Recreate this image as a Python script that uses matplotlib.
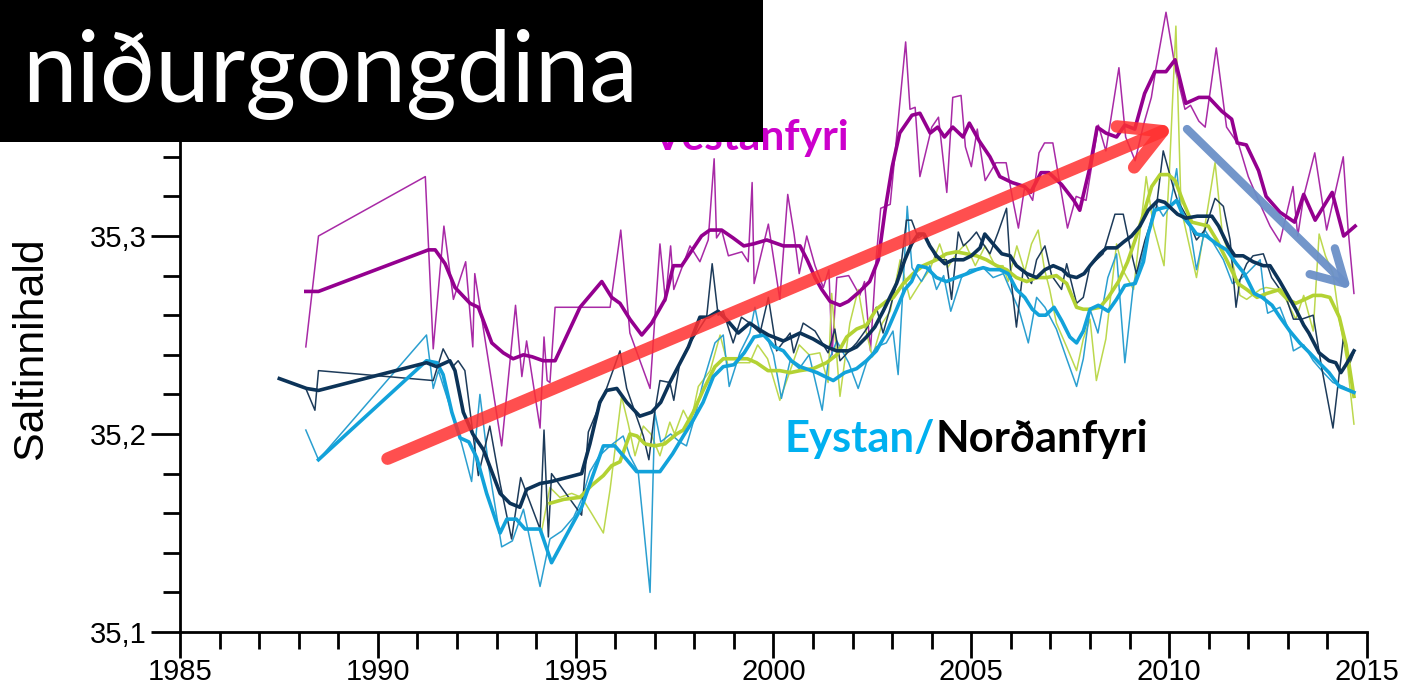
import matplotlib
matplotlib.use('Agg')
import matplotlib.pyplot as plt
import numpy as np
from matplotlib.patches import Rectangle, FancyArrowPatch
from matplotlib.ticker import MultipleLocator, FixedLocator, FuncFormatter

# Vestanfyri (magenta), raw and smoothed
vest_raw_yr = [1988.18, 1988.50, 1991.20, 1991.40, 1991.67, 1991.91, 1992.22, 1992.40, 1992.45, 1993.13,
               1993.48, 1993.64, 1993.76, 1994.10, 1994.20, 1994.28, 1994.35, 1994.48, 1995.87, 1996.14,
               1996.37, 1996.88, 1997.13, 1997.27, 1997.40, 1997.48, 1997.89, 1998.14, 1998.35, 1998.50,
               1998.56, 1998.69, 1998.86, 1999.20, 1999.36, 1999.46, 1999.51, 1999.87, 2000.16, 2000.36,
               2000.52, 2000.65, 2000.84, 2001.05, 2001.26, 2001.40, 2001.48, 2001.60, 2001.90, 2002.18,
               2002.30, 2002.45, 2002.60, 2002.71, 2002.95, 2003.34, 2003.45, 2003.58, 2003.70, 2004.00,
               2004.17, 2004.38, 2004.53, 2004.74, 2004.85, 2005.00, 2005.15, 2005.35, 2005.62, 2005.88,
               2006.05, 2006.19, 2006.35, 2006.55, 2006.71, 2006.85, 2007.06, 2007.43, 2007.65, 2007.90,
               2008.21, 2008.40, 2008.73, 2008.90, 2009.14, 2009.35, 2009.55, 2009.66, 2009.92, 2010.17,
               2010.40, 2010.54, 2010.75, 2010.91, 2011.19, 2011.45, 2011.76, 2012.00, 2012.30, 2012.55,
               2012.80, 2013.13, 2013.25, 2013.40, 2013.68, 2013.98, 2014.15, 2014.40, 2014.52, 2014.67]
vest_raw = [35.244, 35.300, 35.330, 35.243, 35.305, 35.268, 35.287, 35.244, 35.281, 35.194,
            35.265, 35.229, 35.247, 35.203, 35.249, 35.227, 35.226, 35.264, 35.264, 35.303,
            35.251, 35.223, 35.296, 35.267, 35.295, 35.273, 35.295, 35.287, 35.298, 35.339,
            35.299, 35.303, 35.290, 35.292, 35.287, 35.327, 35.276, 35.306, 35.268, 35.321,
            35.301, 35.281, 35.300, 35.285, 35.274, 35.283, 35.240, 35.279, 35.280, 35.270,
            35.277, 35.242, 35.290, 35.314, 35.316, 35.398, 35.364, 35.365, 35.330, 35.355,
            35.360, 35.322, 35.370, 35.371, 35.345, 35.335, 35.354, 35.328, 35.337, 35.337,
            35.318, 35.304, 35.325, 35.318, 35.342, 35.347, 35.347, 35.304, 35.320, 35.318,
            35.356, 35.343, 35.385, 35.350, 35.338, 35.356, 35.370, 35.384, 35.413, 35.383,
            35.364, 35.366, 35.358, 35.355, 35.395, 35.355, 35.346, 35.330, 35.316, 35.305,
            35.297, 35.325, 35.300, 35.320, 35.342, 35.303, 35.318, 35.340, 35.304, 35.271]
vest_sm_yr = [1988.18, 1988.50, 1991.28, 1991.45, 1991.70, 1991.95, 1992.33, 1992.54, 1992.88, 1993.17,
              1993.42, 1993.68, 1993.90, 1994.18, 1994.48, 1995.11, 1995.66, 1995.91, 1996.12, 1996.37,
              1996.67, 1996.92, 1997.26, 1997.47, 1997.68, 1998.18, 1998.39, 1998.69, 1998.98, 1999.25,
              1999.49, 1999.83, 2000.25, 2000.67, 2000.85, 2001.05, 2001.22, 2001.43, 2001.68, 2001.89,
              2002.18, 2002.43, 2002.65, 2002.82, 2003.00, 2003.19, 2003.50, 2003.70, 2003.96, 2004.15,
              2004.32, 2004.53, 2004.79, 2004.95, 2005.20, 2005.47, 2005.72, 2006.03, 2006.34, 2006.50,
              2006.76, 2006.96, 2007.28, 2007.59, 2007.74, 2008.00, 2008.18, 2008.40, 2008.67, 2008.88,
              2009.13, 2009.38, 2009.64, 2009.92, 2010.15, 2010.42, 2010.75, 2011.00, 2011.33, 2011.58,
              2011.72, 2011.95, 2012.26, 2012.45, 2012.80, 2013.17, 2013.40, 2013.69, 2014.12, 2014.41,
              2014.70]
vest_sm = [35.272, 35.272, 35.293, 35.293, 35.286, 35.274, 35.266, 35.264, 35.246, 35.241,
           35.238, 35.240, 35.239, 35.237, 35.237, 35.264, 35.277, 35.269, 35.266, 35.258,
           35.250, 35.256, 35.268, 35.285, 35.285, 35.300, 35.303, 35.303, 35.299, 35.295,
           35.296, 35.298, 35.295, 35.295, 35.288, 35.279, 35.273, 35.267, 35.265, 35.267,
           35.272, 35.277, 35.288, 35.313, 35.335, 35.352, 35.361, 35.362, 35.352, 35.355,
           35.350, 35.355, 35.350, 35.357, 35.348, 35.340, 35.330, 35.327, 35.325, 35.322,
           35.332, 35.332, 35.326, 35.318, 35.313, 35.335, 35.355, 35.352, 35.350, 35.356,
           35.354, 35.372, 35.383, 35.383, 35.389, 35.367, 35.370, 35.370, 35.363, 35.359,
           35.347, 35.346, 35.333, 35.320, 35.312, 35.307, 35.321, 35.308, 35.322, 35.300,
           35.305]

# Norðanfyri (dark navy)
nord_raw_yr = [1988.20, 1988.41, 1988.50, 1991.40, 1991.65, 1991.89, 1992.03, 1992.20, 1992.54, 1992.83,
               1993.09, 1993.38, 1993.61, 1994.10, 1994.20, 1994.31, 1994.39, 1995.15, 1995.32, 1995.78,
               1996.12, 1996.29, 1996.71, 1996.85, 1996.99, 1997.13, 1997.38, 1997.48, 1997.63, 1997.89,
               1998.31, 1998.45, 1998.60, 1998.73, 1998.98, 1999.19, 1999.40, 1999.66, 1999.87, 2000.08,
               2000.42, 2000.51, 2000.75, 2001.05, 2001.38, 2001.55, 2001.68, 2002.10, 2002.35, 2002.60,
               2002.77, 2002.94, 2003.11, 2003.24, 2003.36, 2003.49, 2003.66, 2003.83, 2004.12, 2004.37,
               2004.50, 2004.67, 2004.80, 2004.96, 2005.13, 2005.30, 2005.47, 2005.68, 2005.89, 2006.01,
               2006.14, 2006.31, 2006.52, 2006.65, 2006.86, 2007.03, 2007.28, 2007.41, 2007.66, 2007.83,
               2008.00, 2008.33, 2008.63, 2008.84, 2009.05, 2009.17, 2009.39, 2009.68, 2009.85, 2010.10,
               2010.21, 2010.44, 2010.69, 2010.90, 2011.16, 2011.37, 2011.54, 2011.69, 2011.79, 2011.96,
               2012.12, 2012.38, 2012.59, 2012.80, 2012.97, 2013.14, 2013.35, 2013.64, 2013.85, 2014.14,
               2014.40, 2014.57, 2014.67]
nord_raw = [35.222, 35.212, 35.232, 35.227, 35.243, 35.234, 35.237, 35.232, 35.179, 35.204,
            35.175, 35.147, 35.178, 35.152, 35.202, 35.148, 35.180, 35.159, 35.201, 35.223,
            35.242, 35.223, 35.199, 35.187, 35.210, 35.227, 35.226, 35.217, 35.236, 35.246,
            35.259, 35.286, 35.260, 35.262, 35.246, 35.259, 35.256, 35.251, 35.269, 35.242,
            35.251, 35.241, 35.256, 35.252, 35.241, 35.253, 35.237, 35.246, 35.253, 35.264,
            35.251, 35.263, 35.276, 35.288, 35.308, 35.308, 35.299, 35.301, 35.288, 35.288,
            35.268, 35.302, 35.295, 35.298, 35.302, 35.296, 35.291, 35.302, 35.314, 35.277,
            35.254, 35.283, 35.276, 35.288, 35.295, 35.280, 35.273, 35.286, 35.266, 35.269,
            35.285, 35.291, 35.311, 35.311, 35.291, 35.281, 35.298, 35.315, 35.343, 35.325,
            35.318, 35.310, 35.298, 35.303, 35.319, 35.315, 35.298, 35.264, 35.278, 35.286,
            35.290, 35.291, 35.279, 35.273, 35.268, 35.258, 35.258, 35.260, 35.234, 35.203,
            35.248, 35.236, 35.241]
nord_sm_yr = [1987.51, 1988.20, 1988.50, 1991.23, 1991.49, 1991.82, 1991.95, 1992.16, 1992.40, 1992.67,
              1993.09, 1993.34, 1993.59, 1993.76, 1994.10, 1994.39, 1995.15, 1995.36, 1995.61, 1995.78,
              1996.04, 1996.29, 1996.62, 1996.92, 1997.15, 1997.38, 1997.85, 1998.14, 1998.35, 1998.60,
              1998.85, 1999.11, 1999.40, 1999.62, 1999.87, 2000.25, 2000.67, 2001.00, 2001.34, 2001.60,
              2001.89, 2002.10, 2002.35, 2002.56, 2002.77, 2002.94, 2003.11, 2003.32, 2003.49, 2003.66,
              2003.80, 2003.95, 2004.12, 2004.33, 2004.54, 2004.80, 2005.00, 2005.22, 2005.34, 2005.55,
              2005.77, 2005.98, 2006.14, 2006.40, 2006.65, 2006.86, 2007.07, 2007.30, 2007.45, 2007.66,
              2007.85, 2008.00, 2008.25, 2008.42, 2008.67, 2008.85, 2009.05, 2009.26, 2009.47, 2009.72,
              2009.89, 2010.21, 2010.42, 2010.71, 2011.08, 2011.25, 2011.49, 2011.66, 2011.87, 2012.12,
              2012.38, 2012.55, 2012.80, 2013.00, 2013.20, 2013.40, 2013.53, 2013.79, 2014.04, 2014.21,
              2014.34, 2014.47, 2014.67]
nord_sm = [35.228, 35.223, 35.222, 35.236, 35.234, 35.237, 35.232, 35.211, 35.200, 35.192,
           35.170, 35.165, 35.163, 35.172, 35.175, 35.176, 35.180, 35.195, 35.216, 35.222,
           35.223, 35.216, 35.209, 35.211, 35.216, 35.226, 35.244, 35.259, 35.259, 35.262,
           35.257, 35.251, 35.256, 35.253, 35.250, 35.247, 35.251, 35.248, 35.244, 35.242,
           35.242, 35.244, 35.249, 35.254, 35.262, 35.269, 35.276, 35.288, 35.296, 35.301,
           35.301, 35.295, 35.290, 35.286, 35.288, 35.288, 35.290, 35.294, 35.301, 35.296,
           35.291, 35.290, 35.285, 35.281, 35.279, 35.283, 35.285, 35.283, 35.280, 35.279,
           35.281, 35.285, 35.291, 35.294, 35.294, 35.297, 35.300, 35.305, 35.313, 35.318,
           35.317, 35.311, 35.309, 35.310, 35.310, 35.305, 35.295, 35.290, 35.290, 35.287,
           35.285, 35.285, 35.277, 35.270, 35.263, 35.255, 35.251, 35.241, 35.237, 35.236,
           35.231, 35.235, 35.242]

# Eystanfyri (cyan)
eyst_raw_yr = [1988.18, 1988.50, 1991.23, 1991.40, 1991.53, 1991.87, 1992.12, 1992.37, 1992.58, 1992.79,
               1993.13, 1993.40, 1993.68, 1994.10, 1994.35, 1994.65, 1994.95, 1995.15, 1995.36, 1995.60,
               1995.87, 1996.20, 1996.37, 1996.58, 1996.88, 1997.00, 1997.15, 1997.40, 1997.63, 1997.80,
               1998.00, 1998.22, 1998.52, 1998.73, 1998.88, 1999.15, 1999.40, 1999.53, 1999.66, 1999.87,
               2000.00, 2000.20, 2000.42, 2000.65, 2000.90, 2001.23, 2001.38, 2001.60, 2001.90, 2002.14,
               2002.35, 2002.60, 2002.85, 2003.02, 2003.15, 2003.27, 2003.38, 2003.50, 2003.74, 2003.95,
               2004.12, 2004.30, 2004.48, 2004.75, 2004.96, 2005.30, 2005.55, 2005.81, 2005.98, 2006.20,
               2006.44, 2006.65, 2006.86, 2007.15, 2007.41, 2007.66, 2007.83, 2008.00, 2008.20, 2008.45,
               2008.67, 2008.88, 2009.10, 2009.30, 2009.47, 2009.64, 2009.85, 2010.02, 2010.19, 2010.30,
               2010.52, 2010.69, 2010.90, 2011.10, 2011.37, 2011.60, 2011.79, 2011.96, 2012.30, 2012.40,
               2012.49, 2012.80, 2013.05, 2013.14, 2013.40, 2013.64, 2013.90, 2014.14, 2014.40, 2014.67]
eyst_raw = [35.202, 35.187, 35.250, 35.223, 35.232, 35.211, 35.195, 35.176, 35.220, 35.185,
            35.143, 35.146, 35.162, 35.123, 35.147, 35.151, 35.158, 35.167, 35.181, 35.189,
            35.194, 35.199, 35.189, 35.181, 35.120, 35.211, 35.196, 35.200, 35.196, 35.194,
            35.208, 35.226, 35.246, 35.250, 35.224, 35.241, 35.251, 35.264, 35.251, 35.247,
            35.240, 35.218, 35.237, 35.233, 35.240, 35.212, 35.236, 35.247, 35.236, 35.223,
            35.236, 35.244, 35.246, 35.252, 35.230, 35.273, 35.315, 35.284, 35.277, 35.285,
            35.273, 35.280, 35.262, 35.279, 35.283, 35.284, 35.279, 35.281, 35.273, 35.263,
            35.246, 35.269, 35.264, 35.253, 35.238, 35.224, 35.238, 35.263, 35.251, 35.279,
            35.291, 35.236, 35.276, 35.288, 35.301, 35.317, 35.310, 35.315, 35.334, 35.310,
            35.305, 35.283, 35.303, 35.297, 35.288, 35.276, 35.278, 35.281, 35.288, 35.271,
            35.261, 35.264, 35.251, 35.242, 35.245, 35.237, 35.231, 35.226, 35.224, 35.221]
eyst_sm_yr = [1988.50, 1991.23, 1991.49, 1991.65, 1991.87, 1992.08, 1992.30, 1992.50, 1992.75, 1993.09,
              1993.26, 1993.50, 1993.72, 1994.10, 1994.39, 1995.15, 1995.70, 1995.99, 1996.29, 1996.54,
              1996.85, 1997.13, 1997.45, 1997.72, 1997.97, 1998.22, 1998.48, 1998.73, 1999.00, 1999.26,
              1999.51, 1999.76, 2000.02, 2000.25, 2000.45, 2000.67, 2001.10, 2001.51, 2001.80, 2002.10,
              2002.35, 2002.60, 2002.85, 2003.11, 2003.32, 2003.49, 2003.66, 2003.87, 2004.12, 2004.37,
              2004.62, 2004.90, 2005.13, 2005.30, 2005.47, 2005.72, 2005.93, 2006.14, 2006.35, 2006.54,
              2006.71, 2006.88, 2007.09, 2007.29, 2007.49, 2007.66, 2007.83, 2008.00, 2008.21, 2008.46,
              2008.67, 2008.88, 2009.14, 2009.35, 2009.47, 2009.64, 2009.80, 2010.02, 2010.19, 2010.36,
              2010.69, 2010.94, 2011.20, 2011.45, 2011.70, 2011.90, 2012.15, 2012.35, 2012.60, 2012.80,
              2013.05, 2013.30, 2013.55, 2013.79, 2014.04, 2014.30, 2014.55, 2014.67]
eyst_sm = [35.187, 35.237, 35.236, 35.230, 35.211, 35.198, 35.196, 35.188, 35.170, 35.150,
           35.157, 35.157, 35.152, 35.152, 35.135, 35.163, 35.194, 35.194, 35.187, 35.181,
           35.181, 35.181, 35.190, 35.199, 35.207, 35.216, 35.229, 35.234, 35.235, 35.241,
           35.249, 35.250, 35.244, 35.242, 35.237, 35.234, 35.231, 35.227, 35.231, 35.233,
           35.237, 35.242, 35.251, 35.263, 35.273, 35.277, 35.285, 35.284, 35.279, 35.277,
           35.279, 35.281, 35.283, 35.284, 35.283, 35.283, 35.281, 35.273, 35.269, 35.263,
           35.260, 35.260, 35.264, 35.257, 35.249, 35.246, 35.252, 35.263, 35.265, 35.262,
           35.268, 35.275, 35.276, 35.287, 35.301, 35.313, 35.314, 35.315, 35.318, 35.310,
           35.301, 35.300, 35.296, 35.293, 35.286, 35.281, 35.271, 35.269, 35.265, 35.259,
           35.252, 35.246, 35.241, 35.236, 35.231, 35.224, 35.222, 35.221]

# Norðanfyri second station (lime green)
lime_raw_yr = [1994.14, 1994.35, 1994.60, 1994.90, 1995.15, 1995.40, 1995.70, 1995.87, 1996.16, 1996.33,
               1996.50, 1996.71, 1996.90, 1997.13, 1997.38, 1997.50, 1997.72, 1997.90, 1998.10, 1998.40,
               1998.65, 1998.86, 1999.10, 1999.40, 1999.60, 1999.85, 2000.16, 2000.42, 2000.65, 2000.90,
               2001.17, 2001.38, 2001.47, 2001.68, 2001.93, 2002.14, 2002.30, 2002.50, 2002.75, 2002.95,
               2003.20, 2003.45, 2003.70, 2003.95, 2004.20, 2004.40, 2004.62, 2004.85, 2005.10, 2005.35,
               2005.60, 2005.80, 2005.93, 2006.15, 2006.35, 2006.52, 2006.69, 2006.85, 2006.98, 2007.15,
               2007.41, 2007.66, 2007.83, 2008.00, 2008.16, 2008.40, 2008.67, 2008.85, 2009.10, 2009.42,
               2009.60, 2009.87, 2010.00, 2010.17, 2010.30, 2010.69, 2010.95, 2011.16, 2011.35, 2011.61,
               2011.79, 2011.96, 2012.30, 2012.45, 2012.71, 2012.95, 2013.20, 2013.40, 2013.64, 2013.79,
               2013.95, 2014.14, 2014.30, 2014.50, 2014.67]
lime_raw = [35.151, 35.173, 35.168, 35.170, 35.168, 35.160, 35.150, 35.172, 35.219, 35.205,
            35.189, 35.204, 35.200, 35.189, 35.206, 35.200, 35.212, 35.205, 35.224, 35.232,
            35.250, 35.234, 35.236, 35.236, 35.245, 35.238, 35.217, 35.232, 35.245, 35.240,
            35.241, 35.226, 35.271, 35.219, 35.256, 35.273, 35.255, 35.239, 35.256, 35.262,
            35.288, 35.268, 35.276, 35.283, 35.296, 35.284, 35.291, 35.296, 35.285, 35.295,
            35.285, 35.285, 35.277, 35.295, 35.282, 35.296, 35.303, 35.283, 35.273, 35.256,
            35.244, 35.232, 35.248, 35.258, 35.227, 35.248, 35.296, 35.282, 35.273, 35.330,
            35.305, 35.285, 35.330, 35.406, 35.314, 35.279, 35.311, 35.337, 35.300, 35.286,
            35.270, 35.268, 35.273, 35.274, 35.273, 35.268, 35.258, 35.270, 35.252, 35.301,
            35.290, 35.281, 35.258, 35.236, 35.205]
lime_sm_yr = [1994.35, 1994.70, 1995.11, 1995.40, 1995.70, 1995.91, 1996.12, 1996.37, 1996.55, 1996.75,
              1997.00, 1997.25, 1997.55, 1997.72, 1997.97, 1998.22, 1998.52, 1998.73, 1999.00, 1999.34,
              1999.57, 1999.86, 2000.16, 2000.42, 2000.67, 2001.00, 2001.34, 2001.60, 2001.85, 2002.10,
              2002.35, 2002.60, 2002.85, 2003.03, 2003.28, 2003.53, 2003.78, 2004.12, 2004.37, 2004.62,
              2004.88, 2005.13, 2005.38, 2005.64, 2005.89, 2006.14, 2006.40, 2006.65, 2006.90, 2007.15,
              2007.41, 2007.66, 2007.83, 2008.00, 2008.25, 2008.46, 2008.72, 2008.95, 2009.14, 2009.35,
              2009.56, 2009.77, 2009.98, 2010.15, 2010.36, 2010.57, 2010.78, 2010.99, 2011.20, 2011.45,
              2011.74, 2011.96, 2012.22, 2012.47, 2012.80, 2013.00, 2013.20, 2013.43, 2013.64, 2013.85,
              2014.06, 2014.30, 2014.47, 2014.67]
lime_sm = [35.165, 35.167, 35.168, 35.174, 35.179, 35.184, 35.186, 35.200, 35.199, 35.195,
           35.194, 35.195, 35.200, 35.202, 35.211, 35.222, 35.234, 35.238, 35.238, 35.238,
           35.236, 35.232, 35.232, 35.231, 35.232, 35.233, 35.236, 35.240, 35.249, 35.253,
           35.255, 35.263, 35.267, 35.269, 35.276, 35.281, 35.285, 35.288, 35.291, 35.292,
           35.291, 35.290, 35.288, 35.285, 35.283, 35.279, 35.277, 35.279, 35.279, 35.280,
           35.276, 35.264, 35.263, 35.263, 35.264, 35.269, 35.277, 35.287, 35.298, 35.311,
           35.325, 35.331, 35.331, 35.328, 35.317, 35.307, 35.306, 35.305, 35.298, 35.288,
           35.276, 35.273, 35.269, 35.271, 35.273, 35.268, 35.266, 35.268, 35.270, 35.270,
           35.269, 35.259, 35.245, 35.219]

y_major = [35.1, 35.2, 35.3]

# trend arrows (year, salinity)
up_arrow = [(1990.18, 35.187), (2010.20, 35.356)]
down_arrow = [(2010.40, 35.355), (2014.65, 35.272)]

W, H = 1401, 692
fig = plt.figure(figsize=(W / 100, H / 100), dpi=100)
ax = fig.add_axes([180 / W, 60 / H, 1187 / W, 632 / H])

ax.plot(vest_raw_yr, vest_raw, color='#a82aa6', lw=1.1, zorder=2)
ax.plot(lime_raw_yr, lime_raw, color='#bcd84e', lw=1.1, zorder=2)
ax.plot(eyst_raw_yr, eyst_raw, color='#2b9fd0', lw=1.1, zorder=2)
ax.plot(nord_raw_yr, nord_raw, color='#1d3b5a', lw=1.1, zorder=2)
ax.plot(vest_sm_yr, vest_sm, color='#94008f', lw=2.6, zorder=3)
ax.plot(lime_sm_yr, lime_sm, color='#b3d233', lw=2.6, zorder=3)
ax.plot(eyst_sm_yr, eyst_sm, color='#12a2da', lw=2.6, zorder=3)
ax.plot(nord_sm_yr, nord_sm, color='#0c3358', lw=2.6, zorder=3)

a1 = FancyArrowPatch(up_arrow[0], up_arrow[1], arrowstyle='->,head_length=29,head_width=16',
                     mutation_scale=1, lw=9, color='#ff3030', alpha=0.85,
                     capstyle='round', joinstyle='round', zorder=6)
ax.add_patch(a1)
a2 = FancyArrowPatch(down_arrow[0], down_arrow[1], arrowstyle='->,head_length=23,head_width=13',
                     mutation_scale=1, lw=6, color='#6b90c8', alpha=0.95,
                     capstyle='round', joinstyle='round', zorder=6)
ax.add_patch(a2)

ax.set_xlim(1985, 2015)
ax.set_ylim(35.1, 35.1 + 632 / 1980)
for s in ['top', 'right']:
    ax.spines[s].set_visible(False)
for s in ['left', 'bottom']:
    ax.spines[s].set_linewidth(2)
ax.xaxis.set_major_locator(MultipleLocator(5))
ax.xaxis.set_minor_locator(MultipleLocator(1))
ax.yaxis.set_major_locator(FixedLocator(y_major))
ax.yaxis.set_minor_locator(MultipleLocator(0.02))
ax.yaxis.set_major_formatter(FuncFormatter(lambda v, p: ('%.1f' % v).replace('.', ',')))
ax.tick_params(axis='y', which='major', length=21, width=2, direction='out', pad=3)
ax.tick_params(axis='x', which='major', length=19, width=2, direction='out', pad=0)
ax.tick_params(which='minor', length=12, width=2, direction='out')
for lab in ax.get_xticklabels() + ax.get_yticklabels():
    lab.set_family(['Liberation Sans'])
    lab.set_fontsize(21)


def fx(x):
    return x / W


def fy(y):
    return 1 - y / H


fig.canvas.draw()
r = fig.canvas.get_renderer()


def fit(t, width):
    bb = t.get_window_extent(r)
    t.set_fontsize(t.get_fontsize() * width / bb.width)


ylab = fig.text(fx(31), fy(348), 'Saltinnihald', rotation=90, ha='center', va='center',
                family=['Liberation Sans'], fontsize=30)
bb = ylab.get_window_extent(r)
ylab.set_fontsize(30 * 221 / bb.height)

vt = fig.text(fx(652), fy(150), 'Vestanfyri', color='#cc00cc', fontweight='bold',
              family=['Lato', 'DejaVu Sans'], fontsize=30, ha='left', va='baseline', zorder=5)
fit(vt, 196)

et = fig.text(fx(785), fy(452), 'Eystan/', color='#00b0f0', fontweight='bold',
              family=['Lato', 'DejaVu Sans'], fontsize=30, ha='left', va='baseline', zorder=5)
nt = fig.text(fx(900), fy(452), 'Norðanfyri', color='black', fontweight='bold',
              family=['Lato', 'DejaVu Sans'], fontsize=30, ha='left', va='baseline', zorder=5)
w1 = et.get_window_extent(r).width
w2 = nt.get_window_extent(r).width
k = 363 / (w1 + w2)
et.set_fontsize(30 * k)
nt.set_fontsize(30 * k)
nt.set_x(fx(785 + w1 * k))

fig.add_artist(Rectangle((0, fy(142)), fx(763), 142 / H, transform=fig.transFigure,
                         facecolor='black', edgecolor='none', zorder=10))
tt = fig.text(fx(22), fy(102), 'niðurgongdina', color='white', family=['Lato', 'DejaVu Sans'],
              fontsize=60, ha='left', va='baseline', zorder=11)
fit(tt, 617)

fig.savefig('out.png', dpi=100)
